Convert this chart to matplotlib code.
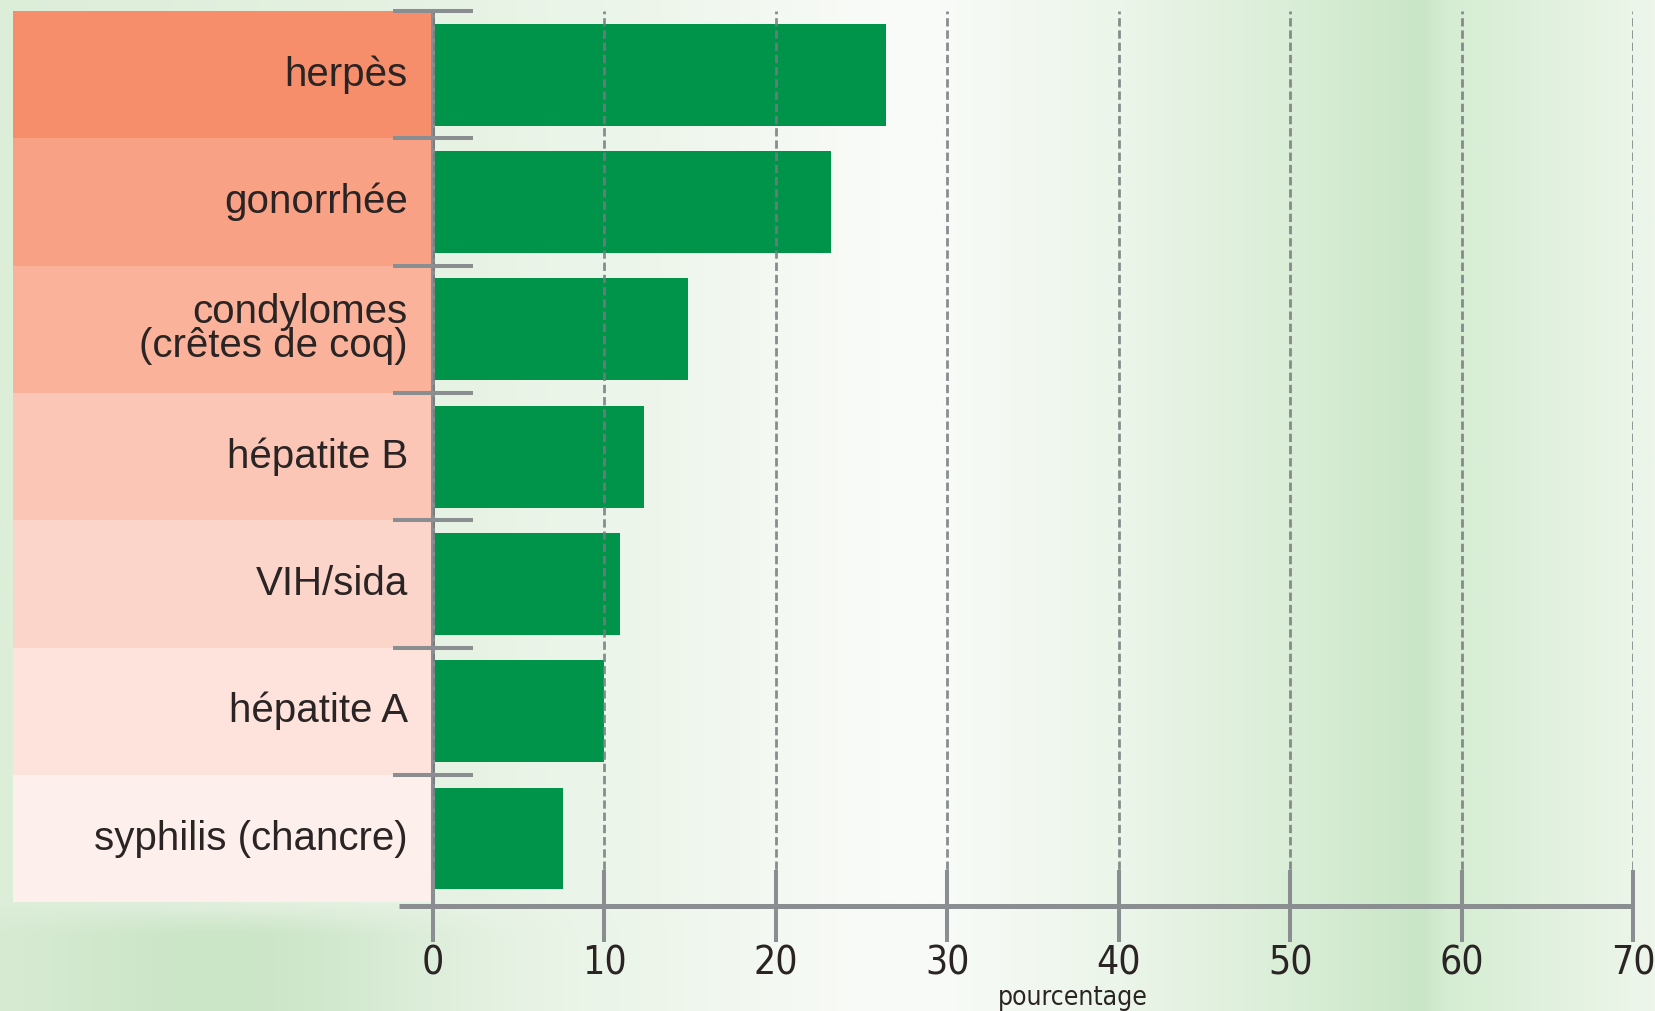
import numpy as np
import matplotlib
matplotlib.use("Agg")
import matplotlib.pyplot as plt
from matplotlib.colors import to_rgb

# donnees
categories = ["herpès", "gonorrhée", "condylomes\n(crêtes de coq)", "hépatite B",
              "VIH/sida", "hépatite A", "syphilis (chancre)"]
values = [26.4, 23.2, 14.9, 12.3, 10.9, 10.0, 7.6]
x_ticks = [0, 10, 20, 30, 40, 50, 60, 70]
x_title = "pourcentage"

# couleurs
band_colors = ["#F68E6C", "#F9A185", "#FAB39A", "#FBC6B6", "#FCD5CA", "#FDE3DC", "#FDEFEB"]
bar_color = "#00944A"
grey = "#8A8E91"
text_color = "#2A2424"
label_font = ["Liberation Sans", "DejaVu Sans"]
tick_font = ["DejaVu Sans"]

W, H = 1655, 1011
fig = plt.figure(figsize=(W / 100, H / 100), dpi=100)

# fond degrade vert
bg = fig.add_axes([0, 0, 1, 1], zorder=-10)
stops = [(0.00, "#DCEDD8"), (0.26, "#E6F2E3"), (0.40, "#EEF6EC"), (0.53, "#F9FBF8"),
         (0.57, "#F8FBF7"), (0.68, "#EBF5E9"), (0.78, "#DAEED7"), (0.86, "#C9E6C7"),
         (0.875, "#D5EDD2"), (0.93, "#E0F1DD"), (1.00, "#EEF6EC")]
xs = np.linspace(0, 1, 600)
sx = [s[0] for s in stops]
cols = np.array([to_rgb(s[1]) for s in stops])
row = np.stack([np.interp(xs, sx, cols[:, k]) for k in range(3)], axis=1)
img = np.repeat(row[None, :, :], 300, axis=0)
ys = np.linspace(0, 1, 300)[:, None]
blob = np.clip((ys - 0.895) / 0.03, 0, 1) * np.exp(-((xs[None, :] - 0.13) / 0.12) ** 2)
green = np.array(to_rgb("#CBE5C7"))
img = img * (1 - blob[..., None]) + green * blob[..., None]
bg.imshow(img, aspect="auto", extent=[0, 1, 0, 1], origin="upper", interpolation="bilinear")
bg.axis("off")

n = len(categories)
ypos = np.arange(n)
ylim = (n - 0.47, -0.5)

# colonne des libelles
lab = fig.add_axes([13 / W, 1 - 906 / H, 420 / W, 895 / H])
lab.barh(ypos, [1] * n, height=1.0, color=band_colors, left=0)
lab.set_xlim(0, 1)
lab.set_ylim(*ylim)
for i, cat in enumerate(categories):
    lab.text(0.94, i, cat, ha="right", va="center", fontsize=29, family=label_font,
             color=text_color, linespacing=0.88)
lab.axis("off")

# graphique principal
ax = fig.add_axes([433 / W, 1 - 906 / H, 1200 / W, 895 / H])
ax.patch.set_alpha(0)
ax.barh(ypos, values, height=0.8, color=bar_color, zorder=2)
ax.set_xlim(0, 70)
ax.set_ylim(*ylim)
ax.set_axisbelow(False)

ax.set_xticks(x_ticks)
ax.set_xticklabels([str(t) for t in x_ticks], fontsize=28, family=tick_font,
                   fontstretch="condensed", color=text_color)
ax.tick_params(axis="x", direction="inout", length=52, width=2.9, color=grey, pad=2)
ax.set_yticks([])
ax.set_yticks(ypos - 0.5, minor=True)
ax.tick_params(axis="y", which="minor", direction="inout", length=58, width=2.9,
               color=grey, left=True)
ax.grid(axis="x", color="#767A7E", linewidth=2, linestyle=(0, (3, 1.4)), alpha=0.85)

for s in ["top", "right", "bottom"]:
    ax.spines[s].set_visible(False)
ax.spines["left"].set_color(grey)
ax.spines["left"].set_linewidth(2.9)
ax.plot([-2, 70], [0, 0], transform=ax.get_xaxis_transform(), color=grey, lw=3.6,
        clip_on=False, zorder=4, solid_capstyle="butt")

ax.set_xlabel(x_title, fontsize=19, family=tick_font, fontstretch="condensed",
              color=text_color)
ax.xaxis.set_label_coords(37.3 / 70, -0.088)

fig.savefig("out.png", dpi=100)
